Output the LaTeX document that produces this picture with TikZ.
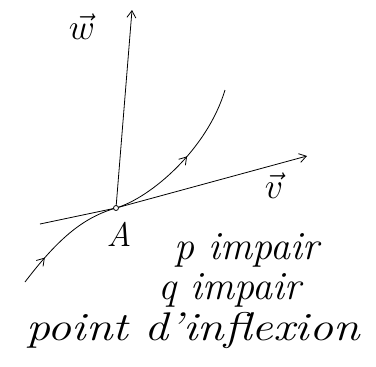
\documentclass[tikz,border=0pt]{standalone}
\usepackage{fix-cm}
\usetikzlibrary{arrows.meta,decorations.markings}

\tikzset{
    hand/.style={font={\fontsize{40}{48}\selectfont\itshape}},
    veclabel/.style={font={\fontsize{36}{40}\selectfont}},
    ptlabel/.style={font={\fontsize{34}{38}\selectfont\itshape}},
    vecarrow/.style={-{Straight Barb[length=7pt,width=9pt]}, thick},
    midarrows/.style={postaction={decorate}, decoration={markings,
        mark=at position 0.11 with {\arrow{Straight Barb[length=7pt,width=9pt]}},
        mark=at position 0.73 with {\arrow{Straight Barb[length=7pt,width=9pt]}}}}
}

\begin{document}
\begin{tikzpicture}[x=1pt, y=-1pt]
    \useasboundingbox (0,0) rectangle (376,367);

    \coordinate (A) at (116, 208);
    \coordinate (wtip) at (132, 10);
    \coordinate (vstart) at (40, 224);
    \coordinate (vtip) at (307, 156);
    \coordinate (cstart) at (25, 282);
    \coordinate (cend) at (225, 90);

    % axes
    \draw[vecarrow] (A) -- (wtip);
    \draw[vecarrow] (vstart) -- (A) -- (vtip);

    % curve through A, inflexion
    \draw[thick, midarrows] (cstart)
        .. controls (60, 236) and (85, 217) .. (A)
        .. controls (150, 198) and (207, 150) .. (cend);

    \draw[thick, fill=white] (A) circle (2.5pt);

    \node[veclabel] (wlabel) at (82, 27) {$\vec w$};
    \node[veclabel] (vlabel) at (274, 186) {$\vec v$};
    \node[ptlabel] (Alabel) at (119, 234) {A};

    \node[hand] (p) at (247, 250) {p impair};
    \node[hand] (q) at (230, 290) {q impair};
    \node[hand, xscale=1.2] (infl) at (193, 330) {point d'inflexion};
\end{tikzpicture}
\end{document}
